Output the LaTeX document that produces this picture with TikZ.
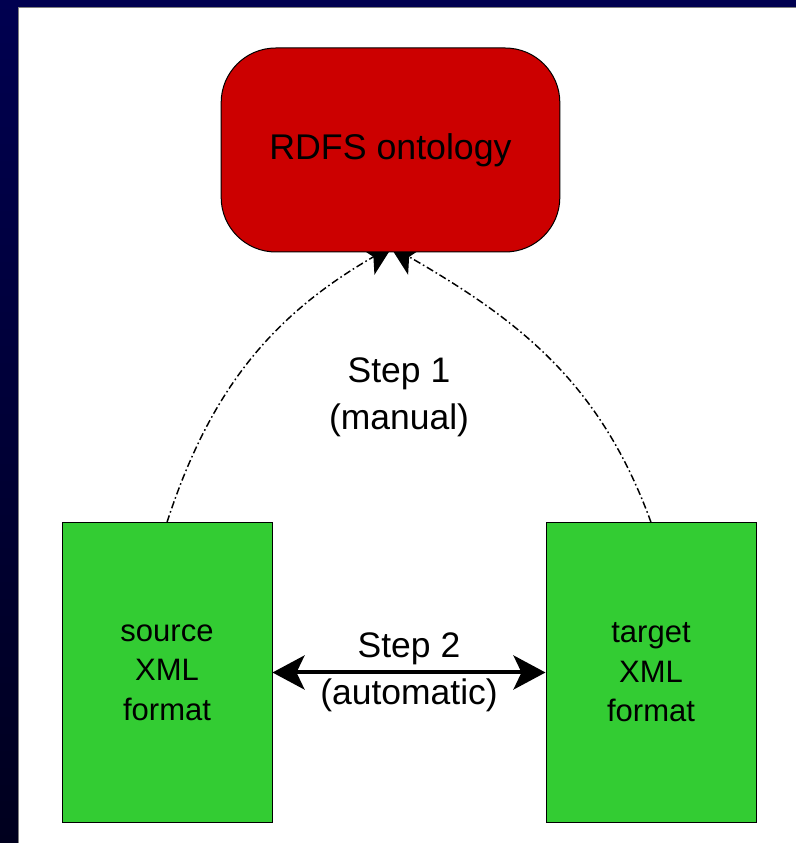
\documentclass[tikz,border=0pt]{standalone}
\usepackage{fontspec}
\setmainfont{Liberation Sans}
\usetikzlibrary{positioning}
\usetikzlibrary{arrows.meta}
\definecolor{fundoazul}{RGB}{0,0,80}
\definecolor{fundoescuro}{RGB}{0,0,30}
\definecolor{vermelho}{RGB}{204,0,0}
\definecolor{verde}{RGB}{51,204,51}
\pgfdeclarelayer{fundo}
\pgfdeclarelayer{setas}
\pgfsetlayers{fundo,setas,main}
\tikzset{
    caixa/.style={draw, line width=0.75pt, fill=verde, minimum width=157.5pt, minimum height=224.5pt, inner sep=0pt, align=center, font=\fontsize{23.25}{29.6}\selectfont},
    ontologia/.style={draw, line width=0.75pt, fill=vermelho, rounded corners=41pt, minimum width=254pt, minimum height=153pt, font=\fontsize{26.8}{34}\selectfont},
    rotulo/.style={align=center, inner sep=0pt, font=\fontsize{26.6}{35}\selectfont},
    pontilhada/.style={line width=1.1pt, dash pattern=on 5.5pt off 2.2pt on 1.2pt off 2.2pt, arrows={-Stealth[length=23pt, width=24pt, inset=6pt]}},
    dupla/.style={line width=3pt, arrows={Stealth[length=24pt, width=25.5pt, inset=6pt]-Stealth[length=24pt, width=25.5pt, inset=6pt]}}
}

\begin{document}
\begin{tikzpicture}[x=0.75pt, y=0.75pt]
            \useasboundingbox (0,0) rectangle (796,843);
            % Fundo
            \begin{pgfonlayer}{fundo}
            \shade[top color=fundoazul, bottom color=fundoescuro] (0,0) rectangle (796,843);
            \fill[white] (18,0) rectangle (796,835);
            \draw[gray, line width=0.75pt] (18,0) -- (18,835) -- (796,835);
            \end{pgfonlayer}

            % Ontologia
            \node [ontologia] (rdfs) at (390.5,693) {RDFS ontology};

            % Formatos XML
            \node [caixa] (source) at (167,170.5) {source\\XML\\format};
            \node [caixa, right=204.75pt of source] (target) {target\\XML\\format};

            % Passo 1
            \node [rotulo] (passo1) at (399,446) {Step 1\\(manual)};
            \begin{pgfonlayer}{setas}
            \draw [pontilhada] (source.north) to[out=72, in=210] ([xshift=1.9pt, yshift=5.25pt]rdfs.south);
            \draw [pontilhada] (target.north) to[out=110, in=-30] ([xshift=-0.75pt, yshift=5.25pt]rdfs.south);
            \end{pgfonlayer}

            % Passo 2
            \path (source) -- node [rotulo] (passo2) {Step 2\\(automatic)} (target);
            \draw [dupla] (source) -- (target);
\end{tikzpicture}
\end{document}
